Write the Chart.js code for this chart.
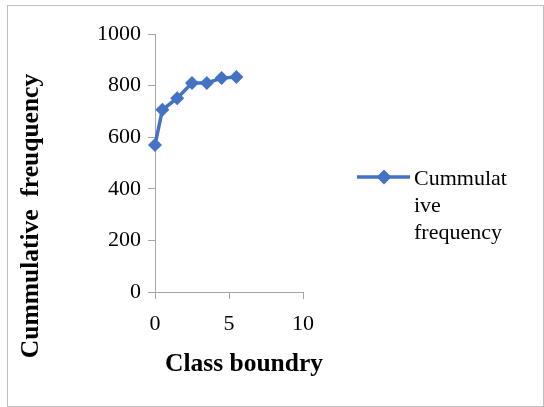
<!DOCTYPE html>
<html>
<head>
<meta charset="utf-8">
<script src="https://cdn.jsdelivr.net/npm/chart.js@4.4.1/dist/chart.umd.min.js"></script>
<style>
  html, body { margin: 0; padding: 0; background: #fff; }
  canvas { display: block; }
</style>
</head>
<body>
<canvas id="cumChart" width="544" height="407"></canvas>
<script>
// values
var classBoundary = [0, 0.5, 1.5, 2.5, 3.5, 4.5, 5.5];
var cumFrequency = [570, 706, 751, 810, 810, 829, 833];
var legendLines = ['Cummulat', 'ive', 'frequency'];
var xTitle = 'Class boundry';
var yTitle = 'Cummulative  freuquency';

var blue = '#4472C4';
var axisGrey = '#a6a6a6';
var serif = '"Liberation Serif", "Times New Roman", serif';

// frame, axis titles and the wrapped legend, placed like the original
var decorPlugin = {
    id: 'decor',
    afterDraw: function(chart) {
        var ctx = chart.ctx;
        ctx.save();

        ctx.strokeStyle = '#bfbfbf';
        ctx.lineWidth = 1;
        ctx.strokeRect(7.5, 5.5, 536, 401);

        ctx.fillStyle = '#000';
        ctx.font = 'bold 25.5px ' + serif;
        ctx.textAlign = 'center';
        ctx.textBaseline = 'middle';
        ctx.fillText(xTitle, 244, 364);

        ctx.translate(31, 216);
        ctx.rotate(-Math.PI / 2);
        ctx.fillText(yTitle, 0, 0);
        ctx.restore();

        ctx.save();
        ctx.strokeStyle = blue;
        ctx.lineWidth = 3.5;
        ctx.beginPath();
        ctx.moveTo(357, 177);
        ctx.lineTo(410, 177);
        ctx.stroke();
        Chart.helpers.drawPoint(ctx, { pointStyle: 'rectRot', radius: 5, borderWidth: 1 }, 384, 177);
        ctx.fillStyle = blue;
        ctx.fill();

        ctx.fillStyle = '#000';
        ctx.font = '22px ' + serif;
        ctx.textAlign = 'left';
        ctx.textBaseline = 'middle';
        for (var i = 0; i < legendLines.length; i++) {
            ctx.fillText(legendLines[i], 414, 179 + i * 27);
        }
        ctx.restore();
    }
};

var points = classBoundary.map(function(x, i) {
    return { x: x, y: cumFrequency[i] };
});

var ctx = document.getElementById('cumChart').getContext('2d');
var cumChart = new Chart(ctx, {
    type: 'scatter',
    data: {
        datasets: [{
            label: 'Cummulative frequency',
            data: points,
            showLine: true,
            clip: false,
            borderColor: blue,
            backgroundColor: blue,
            borderWidth: 3.5,
            pointStyle: 'rectRot',
            pointRadius: 7,
            pointHoverRadius: 7,
            pointBorderWidth: 0,
            tension: 0
        }]
    },
    options: {
        responsive: false,
        animation: false,
        devicePixelRatio: 1,
        layout: {
            padding: { left: 0, top: 34, right: 241, bottom: 0 }
        },
        plugins: {
            legend: { display: false },
            tooltip: { enabled: false }
        },
        scales: {
            x: {
                type: 'linear',
                min: 0,
                max: 10,
                ticks: {
                    stepSize: 5,
                    color: '#000',
                    padding: 12,
                    font: { family: serif, size: 22 },
                    callback: function(v) { return String(v); }
                },
                grid: {
                    drawOnChartArea: false,
                    drawTicks: true,
                    tickLength: 7,
                    color: axisGrey
                },
                border: { color: axisGrey, width: 1 },
                afterFit: function(scale) { scale.height = 115; }
            },
            y: {
                min: 0,
                max: 1000,
                ticks: {
                    stepSize: 200,
                    color: '#000',
                    padding: 7,
                    font: { family: serif, size: 22 },
                    callback: function(v) { return String(v); }
                },
                grid: {
                    drawOnChartArea: false,
                    drawTicks: true,
                    tickLength: 7,
                    color: axisGrey
                },
                border: { color: axisGrey, width: 1 },
                afterFit: function(scale) { scale.width = 155; }
            }
        }
    },
    plugins: [decorPlugin]
});
</script>
</body>
</html>
